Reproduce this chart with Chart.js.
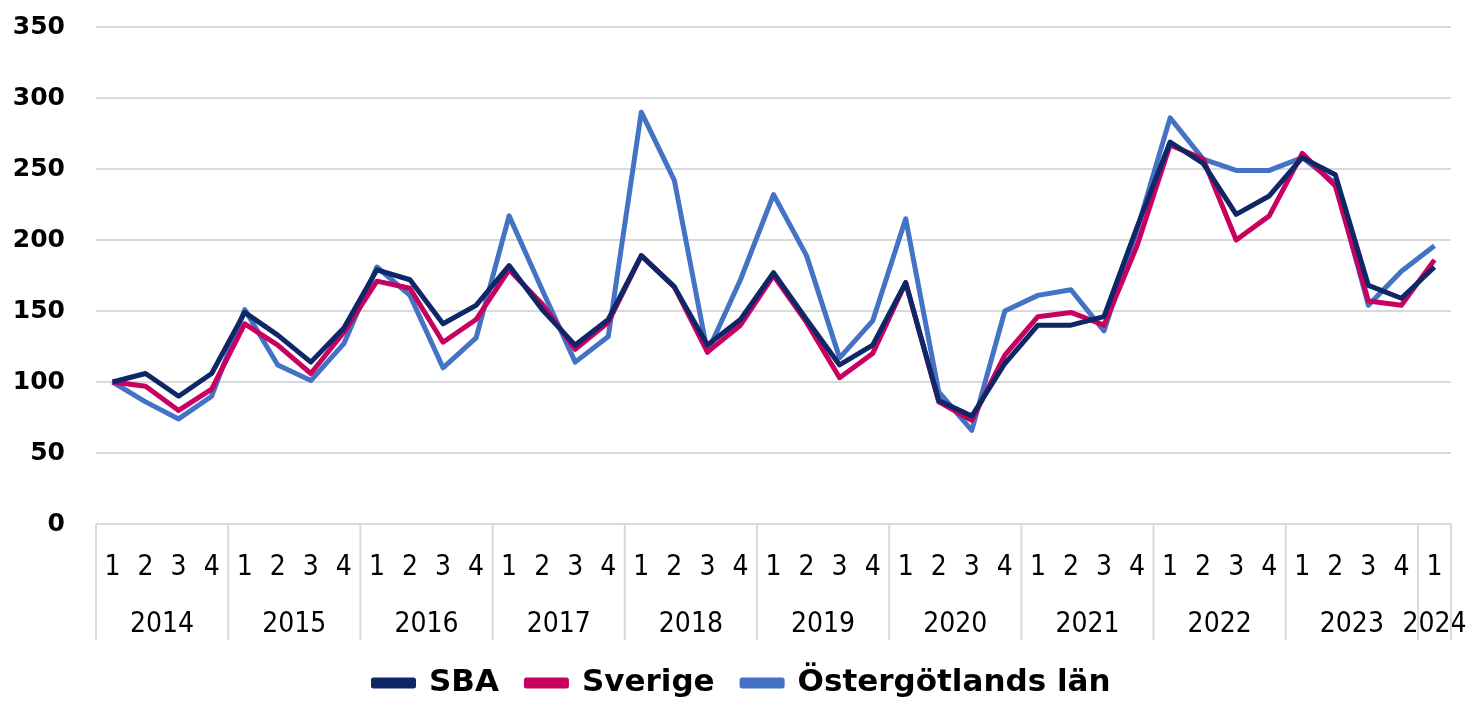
<!DOCTYPE html>
<html>
<head>
<meta charset="utf-8">
<script src="https://cdn.jsdelivr.net/npm/chart.js@4"></script>
<style>
  html, body { margin: 0; padding: 0; background: #fff; }
  #wrap { width: 1471px; height: 701px; }
</style>
</head>
<body>
<div id="wrap"><canvas id="indexChart"></canvas></div>
<script>
// kvartal 2014 Q1 - 2024 Q1, index 2014 Q1 = 100
const years = ["2014", "2015", "2016", "2017", "2018", "2019", "2020", "2021", "2022", "2023", "2024"];
const quarters = ["1", "2", "3", "4"];

const sba = [100, 106, 90, 106, 149, 133, 114, 138, 179, 172, 141, 154,
             182, 151, 126, 144, 189, 167, 126, 144, 177, 144, 112, 126,
             170, 87, 76, 113, 140, 140, 146, 209, 269, 254, 218, 231,
             258, 246, 168, 159, 181];
const sverige = [100, 97, 80, 95, 141, 126, 106, 135, 171, 166, 128, 144,
                 179, 155, 123, 142, 189, 167, 121, 140, 175, 142, 103, 120,
                 170, 86, 73, 119, 146, 149, 140, 196, 267, 257, 200, 217,
                 261, 238, 157, 154, 186];
const ostergotland = [100, 86, 74, 90, 151, 112, 101, 127, 181, 161, 110, 131,
                      217, 165, 114, 132, 290, 242, 121, 172, 232, 189, 117, 143,
                      215, 93, 66, 150, 161, 165, 136, 207, 286, 257, 249, 249,
                      258, 240, 154, 178, 196];

// etiketter: ett kvartal per punkt
const labels = [];
const yearOf = [];
years.forEach((y) => {
    quarters.forEach((q) => {
        if (labels.length < sba.length) {
            labels.push(q);
            yearOf.push(y);
        }
    });
});

const gridColor = "#d9d9d9";
const narrowFont = "'Liberation Sans Narrow', 'DejaVu Sans Condensed', 'Roboto Condensed', sans-serif";
const boldFont = "'DejaVu Sans', 'Liberation Sans', sans-serif";

// årtal och avgränsare under x-axeln
const yearPlugin = {
    id: "yearLabels",
    afterLayout(chart) {
        // legenden ligger lite till höger om mitten i originalet
        chart.legend.left = 33;
        chart.legend.right = 1451;
    },
    afterDraw(chart) {
        const ctx = chart.ctx;
        const x = chart.scales.x;
        const top = x.top;
        const bottom = x.bottom;
        const half = (x.getPixelForValue(1) - x.getPixelForValue(0)) / 2;
        ctx.save();
        ctx.strokeStyle = gridColor;
        ctx.lineWidth = 2;
        ctx.beginPath();
        ctx.moveTo(x.left, top);
        ctx.lineTo(x.right, top);
        ctx.stroke();
        let start = 0;
        for (let i = 0; i <= labels.length; i++) {
            if (i === labels.length || (i > 0 && yearOf[i] !== yearOf[i - 1])) {
                const px = x.getPixelForValue(start) - half;
                ctx.beginPath();
                ctx.moveTo(px, top);
                ctx.lineTo(px, bottom);
                ctx.stroke();
                const center = (x.getPixelForValue(start) + x.getPixelForValue(i - 1)) / 2;
                ctx.fillStyle = "#000";
                ctx.font = "28px " + narrowFont;
                ctx.textAlign = "center";
                ctx.textBaseline = "middle";
                ctx.fillText(yearOf[start], center, top + 101);
                start = i;
            }
        }
        const endPx = x.getPixelForValue(labels.length - 1) + half;
        ctx.beginPath();
        ctx.moveTo(endPx, top);
        ctx.lineTo(endPx, bottom);
        ctx.stroke();
        ctx.restore();
    }
};

const ctx = document.getElementById("indexChart");
const indexChart = new Chart(ctx, {
    type: "line",
    data: {
        labels: labels,
        datasets: [
            { label: "SBA", data: sba, borderColor: "#0d2767", backgroundColor: "#0d2767" },
            { label: "Sverige", data: sverige, borderColor: "#c8005f", backgroundColor: "#c8005f" },
            { label: "Östergötlands län", data: ostergotland, borderColor: "#4472c4", backgroundColor: "#4472c4" }
        ]
    },
    options: {
        responsive: true,
        maintainAspectRatio: false,
        animation: false,
        layout: { padding: { top: 27, right: 20, left: 0, bottom: -7.5 } },
        elements: {
            point: { radius: 0 },
            line: { borderWidth: 5, tension: 0, borderJoinStyle: "round" }
        },
        scales: {
            x: {
                offset: true,
                grid: { display: false },
                border: { display: false },
                ticks: {
                    color: "#000",
                    font: { family: narrowFont, size: 28 },
                    padding: 19,
                    maxRotation: 0,
                    autoSkip: false
                },
                afterFit(scale) { scale.height = 116; }
            },
            y: {
                min: 0,
                max: 350,
                ticks: {
                    stepSize: 50,
                    color: "#000",
                    font: { family: boldFont, size: 25, weight: "bold" },
                    padding: 0
                },
                grid: {
                    color: gridColor,
                    lineWidth: 2,
                    drawTicks: true,
                    tickLength: 31,
                    tickColor: "rgba(0,0,0,0)"
                },
                border: { display: false },
                afterFit(scale) { scale.width = 96; }
            }
        },
        plugins: {
            legend: {
                position: "bottom",
                labels: {
                    color: "#000",
                    font: { family: boldFont, size: 31, weight: "bold" },
                    boxWidth: 40,
                    boxHeight: 6,
                    padding: 27.5
                }
            },
            tooltip: { enabled: false }
        }
    },
    plugins: [yearPlugin]
});
</script>
</body>
</html>
